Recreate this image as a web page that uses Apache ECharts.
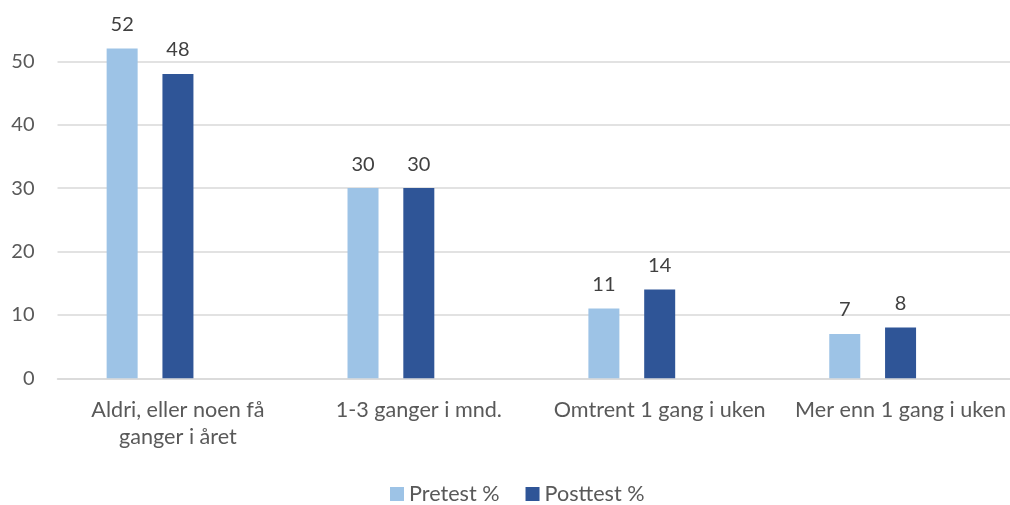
<!DOCTYPE html>
<html>
<head>
<meta charset="utf-8">
<script src="https://cdn.jsdelivr.net/npm/echarts@6/dist/echarts.min.js"></script>
<style>
  html, body { margin: 0; padding: 0; background: #ffffff; overflow: hidden; }
  /* plot area runs slightly past the right edge of the window */
  #chart { width: 1021px; height: 505px; }
</style>
</head>
<body>
<div id="chart"></div>
<script>
// Frequency categories and survey percentages before and after the intervention
const categories = ['Aldri, eller noen få\nganger i året', '1-3 ganger i mnd.', 'Omtrent 1 gang i uken', 'Mer enn 1 gang i uken'];
const pretest = [52, 30, 11, 7];
const posttest = [48, 30, 14, 8];
const yTicks = [0, 10, 20, 30, 40, 50];

const FONT = 'Lato';
const TEXT = '#595959';

const chart = echarts.init(document.getElementById('chart'), null, { renderer: 'canvas' });

const valueLabel = {
  show: true,
  position: 'top',
  distance: 14,
  color: '#404040',
  fontFamily: FONT,
  fontSize: 20
};

chart.setOption({
  animation: false,
  textStyle: { fontFamily: FONT },
  grid: { left: 57.5, right: 0, top: 61.3, bottom: 126.7, containLabel: false },
  legend: {
    data: ['Pretest %', 'Posttest %'],
    top: 483,
    left: 390,
    icon: 'rect',
    itemWidth: 14,
    itemHeight: 14,
    itemGap: 26,
    padding: 0,
    textStyle: { color: TEXT, fontFamily: FONT, fontSize: 21.6 }
  },
  xAxis: {
    type: 'category',
    data: categories,
    axisLine: { show: true, lineStyle: { color: '#D9D9D9', width: 1.5 } },
    axisTick: { show: false },
    axisLabel: {
      color: TEXT,
      fontFamily: FONT,
      fontSize: 21.6,
      lineHeight: 27,
      margin: 18,
      interval: 0
    }
  },
  yAxis: {
    type: 'value',
    min: yTicks[0],
    max: yTicks[yTicks.length - 1],
    interval: 10,
    axisLine: { show: false },
    axisTick: { show: false },
    axisLabel: { color: TEXT, fontFamily: FONT, fontSize: 20, margin: 23 },
    splitLine: { lineStyle: { color: '#D9D9D9', width: 1.5 } }
  },
  series: [
    {
      name: 'Pretest %',
      type: 'bar',
      data: pretest,
      barWidth: 31,
      barGap: '80%',
      clip: false,
      itemStyle: { color: '#9DC3E6' },
      label: valueLabel
    },
    {
      name: 'Posttest %',
      type: 'bar',
      data: posttest,
      barWidth: 31,
      barGap: '80%',
      clip: false,
      itemStyle: { color: '#2F5597' },
      label: valueLabel
    },
    {
      // empty slot keeps the bar pair left of each category's centre
      name: 'spacer',
      type: 'bar',
      data: categories.map(() => '-'),
      barWidth: 31,
      barGap: '80%',
      silent: true
    }
  ]
});
</script>
</body>
</html>
